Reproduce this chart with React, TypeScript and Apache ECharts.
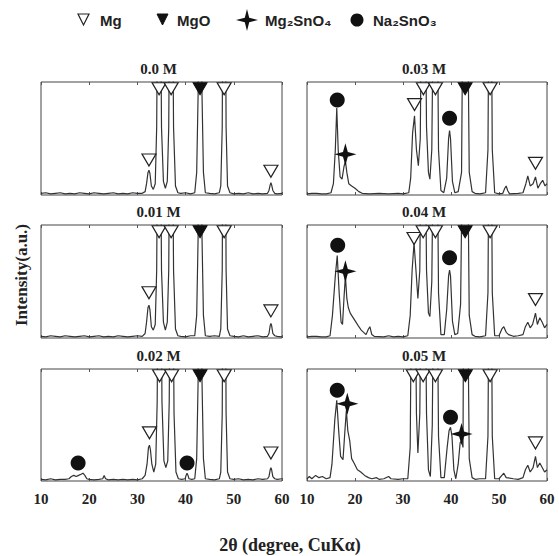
import React, { useEffect, useRef } from "react";
import * as echarts from "echarts";

// ---------- data ----------
const PANEL_LABELS = ["0.0 M", "0.01 M", "0.02 M", "0.03 M", "0.04 M", "0.05 M"];
const X_MIN = 10;
const X_MAX = 60;
const X_STEP = 10;
const PHASES = ["Mg", "MgO", "Mg₂SnO₄", "Na₂SnO₃"];

const PATTERN_000 = [
  [10, 1.5], [11, 2], [12, 1], [13, 1.5], [14, 2], [15, 1], [16, 1.5], [17, 1], [18, 2], [19, 1.5], [20, 1],
  [21, 2], [22, 1.5], [23, 1], [24, 1.5], [25, 2], [26, 1], [27, 1.5], [28, 1], [29, 2], [30, 1.5], [31, 1.5],
  [31.6, 3], [31.9, 10], [32.2, 20], [32.4, 22], [32.6, 19], [32.9, 8], [33.3, 5], [33.7, 10], [34.0, 60],
  [34.3, 250], [34.7, 250], [35.0, 60], [35.4, 12], [35.8, 6], [36.2, 12], [36.5, 60], [36.8, 250], [37.2, 250],
  [37.5, 60], [37.9, 8], [38.4, 2], [39, 1.5], [40, 2], [41, 1], [41.9, 2], [42.3, 20], [42.6, 90], [42.8, 250],
  [43.2, 250], [43.4, 90], [43.7, 20], [44.1, 2], [45, 1.5], [46, 1], [47, 2], [47.3, 8], [47.6, 60], [47.8, 250],
  [48.2, 250], [48.4, 60], [48.7, 8], [49.2, 2], [50, 1], [51, 1.5], [52, 1], [53, 2], [54, 1], [55, 1.5], [56, 1],
  [57, 1.5], [57.3, 4], [57.55, 9], [57.7, 11], [57.85, 9], [58.1, 4], [58.5, 1.5], [59, 1], [60, 1.5],
];

const PATTERN_001 = [
  [10, 1.5], [11, 1], [12, 2], [13, 1.5], [14, 1], [15, 2], [16, 1.5], [17, 1], [18, 1.5], [19, 2], [20, 1],
  [21, 1.5], [22, 2], [23, 1], [24, 1.5], [25, 1], [26, 2], [27, 1.5], [28, 1], [29, 1.5], [30, 2], [31, 1.5],
  [31.6, 4], [31.9, 14], [32.2, 27], [32.4, 29], [32.6, 25], [32.9, 10], [33.3, 7], [33.7, 12], [34.0, 60],
  [34.3, 250], [34.7, 250], [35.0, 60], [35.4, 14], [35.8, 7], [36.2, 14], [36.5, 60], [36.8, 250], [37.2, 250],
  [37.5, 60], [37.9, 8], [38.4, 2], [39, 1.5], [40, 1], [41, 2], [41.9, 2], [42.3, 20], [42.6, 90], [42.8, 250],
  [43.2, 250], [43.4, 90], [43.7, 20], [44.1, 2], [45, 1.5], [46, 2], [47, 1.5], [47.3, 8], [47.6, 60], [47.8, 250],
  [48.2, 250], [48.4, 60], [48.7, 8], [49.2, 2], [50, 1.5], [51, 1], [52, 2], [53, 1], [54, 1.5], [55, 2], [56, 1],
  [57, 1.5], [57.3, 4], [57.55, 11], [57.7, 13], [57.85, 11], [58.1, 4], [58.5, 2], [59, 1.5], [60, 1],
];

const PATTERN_002 = [
  [10, 1.5], [11, 1], [12, 2], [13, 1], [14, 1.5], [15, 1.5], [15.8, 2], [16.3, 4], [16.8, 5], [17.3, 4],
  [17.8, 5], [18.3, 6], [18.7, 7], [19.1, 5], [19.5, 2], [20, 1.5], [21, 1], [22, 1.5], [22.8, 2], [23.1, 5],
  [23.4, 2], [24, 1], [25, 1.5], [26, 1], [27, 1.5], [28, 1], [29, 1.5], [30, 1], [31, 2], [31.6, 5], [32.0, 15],
  [32.3, 30], [32.5, 32], [32.7, 28], [33.0, 15], [33.4, 8], [33.8, 15], [34.1, 70], [34.4, 250], [34.8, 250],
  [35.1, 70], [35.5, 18], [35.9, 12], [36.3, 18], [36.6, 70], [36.9, 250], [37.3, 250], [37.6, 60], [38.0, 8],
  [38.5, 2], [39.2, 1.5], [39.9, 2], [40.1, 5], [40.3, 7], [40.5, 5], [40.7, 2], [41.3, 1.5], [41.9, 2], [42.3, 20],
  [42.6, 90], [42.8, 250], [43.2, 250], [43.4, 90], [43.7, 20], [44.1, 2], [45, 1.5], [46, 1], [47, 2], [47.3, 8],
  [47.6, 60], [47.8, 250], [48.2, 250], [48.4, 60], [48.7, 8], [49.2, 2], [50, 1.5], [51, 2], [52, 1], [53, 1.5],
  [54, 1], [55, 2], [56, 1.5], [57, 2], [57.3, 4], [57.55, 10], [57.7, 12], [57.85, 10], [58.1, 4], [58.5, 2],
  [59, 1.5], [60, 2],
];

const PATTERN_003 = [
  [10, 1], [11, 1.5], [12, 1.5], [13, 1], [14, 1], [15, 2], [15.5, 10], [15.9, 40], [16.2, 77], [16.5, 40],
  [16.9, 16], [17.3, 14], [17.7, 25], [18.0, 30], [18.3, 20], [18.7, 10], [19.3, 8], [20, 6], [20.8, 3], [21.5, 1.5],
  [23, 1], [25, 1.5], [27, 1], [29, 1.5], [30, 1], [31.2, 2], [31.6, 15], [32.0, 55], [32.4, 70], [32.8, 40],
  [33.2, 26], [33.6, 50], [34.0, 250], [34.5, 250], [34.9, 60], [35.3, 20], [35.6, 14], [36.0, 40], [36.5, 250],
  [37.0, 250], [37.4, 40], [37.9, 4], [38.5, 2], [39.1, 15], [39.5, 50], [39.7, 57], [39.9, 50], [40.3, 12],
  [40.8, 2], [41.5, 3], [42.2, 20], [42.6, 250], [43.3, 250], [43.8, 20], [44.4, 3], [45, 1.5], [46, 1], [47.2, 2],
  [47.7, 40], [48.0, 250], [48.3, 250], [48.6, 40], [49.1, 2], [50, 1], [50.8, 1.5], [51.2, 6], [51.5, 8],
  [51.8, 4], [52.2, 1], [54, 1.5], [55, 2], [55.6, 10], [56.0, 17], [56.5, 8], [57.1, 10], [57.6, 16], [58.1, 6],
  [58.6, 10], [59.1, 13], [59.6, 8], [60, 10],
];

const PATTERN_004 = [
  [10, 1], [11, 1.5], [12, 1.5], [13, 1], [14, 1], [14.8, 2], [15.3, 20], [15.9, 55], [16.3, 73], [16.7, 40],
  [17.1, 14], [17.4, 12], [17.7, 35], [18.0, 55], [18.3, 35], [18.6, 27], [19.0, 22], [19.6, 18], [20.2, 14],
  [20.8, 10], [21.3, 7], [21.8, 5], [22.3, 3], [22.8, 8], [23.1, 10], [23.5, 3], [24, 1.5], [26, 1], [27, 2],
  [28, 1], [29, 1.5], [30, 1], [31.0, 2], [31.5, 20], [31.9, 60], [32.3, 84], [32.7, 60], [33.1, 35], [33.5, 60],
  [33.9, 250], [34.5, 250], [34.9, 60], [35.3, 22], [35.6, 19], [36.0, 50], [36.5, 250], [37.0, 250], [37.4, 40],
  [37.9, 3], [38.6, 3], [39.1, 25], [39.5, 55], [39.7, 60], [39.9, 55], [40.3, 15], [40.8, 3], [41.4, 4],
  [42.0, 30], [42.6, 250], [43.3, 250], [43.8, 20], [44.4, 3], [45, 1.5], [46, 1], [47.2, 2], [47.7, 40],
  [48.0, 250], [48.3, 250], [48.6, 40], [49.1, 2], [50, 2], [50.6, 8], [51.0, 10], [51.5, 5], [52, 3], [53, 1.5],
  [54, 2], [55, 3], [55.5, 10], [56.0, 14], [56.5, 9], [57.0, 12], [57.6, 22], [58.0, 12], [58.5, 18], [59.0, 14],
  [59.5, 9], [60, 12],
];

const PATTERN_005 = [
  [10, 2], [10.5, 4], [11, 2], [11.8, 5], [12.5, 3], [13.2, 4], [14, 2], [14.8, 3], [15.2, 15], [15.8, 55],
  [16.2, 72], [16.6, 45], [17.0, 22], [17.5, 19], [17.9, 45], [18.2, 63], [18.5, 45], [18.9, 36], [19.3, 20],
  [19.8, 16], [20.5, 10], [21.2, 8], [22, 5], [22.8, 3], [23.5, 2], [24.5, 3], [25, 1.5], [26, 2], [27, 4],
  [27.5, 2], [29, 1.5], [30, 2], [31.0, 2], [31.5, 30], [31.9, 250], [32.4, 250], [32.8, 60], [33.1, 25],
  [33.5, 60], [33.9, 250], [34.5, 250], [34.9, 60], [35.3, 10], [35.7, 4], [36.1, 50], [36.5, 250], [37.0, 250],
  [37.4, 40], [37.9, 3], [38.6, 3], [39.2, 30], [39.6, 45], [39.9, 48], [40.2, 40], [40.6, 10], [41.0, 2],
  [41.5, 15], [41.9, 34], [42.2, 36], [42.5, 30], [42.7, 250], [43.3, 250], [43.8, 20], [44.4, 3], [45, 1.5],
  [46, 2], [47.2, 2], [47.7, 40], [48.0, 250], [48.3, 250], [48.6, 40], [49.1, 2], [50, 2], [50.6, 5], [51.0, 7],
  [51.5, 3], [53, 2], [54, 1.5], [55, 3], [55.5, 10], [56.0, 14], [56.5, 8], [57.1, 12], [57.6, 22], [58.0, 12],
  [58.5, 16], [59.0, 12], [59.5, 8], [60, 10],
];

const PATTERNS = [PATTERN_000, PATTERN_001, PATTERN_002, PATTERN_003, PATTERN_004, PATTERN_005];

// phase markers per panel [2theta, height]
const MG_MARKS = [
  [[32.4, 31], [34.5, 94], [37.0, 94], [48.0, 94], [57.7, 21]],
  [[32.4, 40], [34.5, 94], [37.0, 94], [48.0, 94], [57.7, 24]],
  [[32.5, 43], [34.6, 94], [37.1, 94], [48.0, 94], [57.7, 25]],
  [[32.4, 80], [34.25, 94], [36.75, 94], [48.15, 94], [57.6, 28]],
  [[32.3, 88], [34.2, 94], [36.75, 94], [48.15, 94], [57.6, 34]],
  [[32.15, 94], [34.2, 94], [36.75, 94], [48.15, 94], [57.6, 34]],
];
const MGO_MARKS = [
  [[43.0, 94]], [[43.0, 94]], [[43.0, 94]], [[42.95, 94]], [[42.95, 94]], [[43.0, 94]],
];
const MG2SNO4_MARKS = [[], [], [], [[18.0, 36]], [[18.0, 59]], [[18.4, 69], [42.2, 42]]];
const NA2SNO3_MARKS = [
  [], [], [[17.7, 16], [40.3, 16]], [[16.3, 84], [39.7, 68]], [[16.4, 82], [39.7, 71]], [[16.3, 81], [39.9, 57]],
];

// ---------- layout ----------
const COLS = [
  { left: 41, width: 241 },
  { left: 307, width: 240 },
];
const ROWS = [
  { top: 82, height: 113 },
  { top: 225, height: 113 },
  { top: 369, height: 112 },
];
const PANEL_POS = [
  [0, 0], [1, 0], [2, 0], [0, 1], [1, 1], [2, 1],
];

const SERIF = '"Liberation Serif", "Times New Roman", serif';
const SANS = '"Liberation Sans", Arial, sans-serif';
const STAR_PATH = "path://M10,0 L12.2,7.8 L20,10 L12.2,12.2 L10,20 L7.8,12.2 L0,10 L7.8,7.8 Z";

export default function App() {
  const ref = useRef<HTMLDivElement>(null);

  useEffect(() => {
    if (!ref.current) return;
    const chart = echarts.init(ref.current, undefined, { renderer: "svg" });

    const grids: any[] = [];
    const xAxes: any[] = [];
    const xAxesTop: any[] = [];
    const yAxes: any[] = [];
    const series: any[] = [];
    const graphics: any[] = [];

    PATTERNS.forEach((pat, i) => {
      const [r, c] = PANEL_POS[i];
      const col = COLS[c];
      const row = ROWS[r];
      grids.push({
        left: col.left,
        top: row.top,
        width: col.width,
        height: row.height,
        show: true,
        borderColor: "#444",
        borderWidth: 1,
        backgroundColor: "transparent",
      });
      xAxes.push({
        gridIndex: i,
        type: "value",
        min: X_MIN,
        max: X_MAX,
        interval: X_STEP,
        axisLine: { show: false },
        axisTick: { show: true, inside: true, length: 3, lineStyle: { color: "#555" } },
        axisLabel: {
          show: r === 2,
          fontFamily: SERIF,
          fontWeight: "bold",
          fontSize: 15,
          color: "#222",
          margin: 10,
        },
        splitLine: { show: false },
      });
      xAxesTop.push({
        gridIndex: i,
        type: "value",
        position: "top",
        min: X_MIN,
        max: X_MAX,
        interval: X_STEP,
        axisLine: { show: false },
        axisTick: { show: true, inside: true, length: 3, lineStyle: { color: "#555" } },
        axisLabel: { show: false },
        splitLine: { show: false },
      });
      yAxes.push({
        gridIndex: i,
        type: "value",
        min: 0,
        max: 100,
        show: false,
        splitLine: { show: false },
      });
      series.push({
        type: "line",
        name: PANEL_LABELS[i],
        xAxisIndex: i,
        yAxisIndex: i,
        data: pat,
        symbol: "none",
        showSymbol: false,
        clip: true,
        lineStyle: { color: "#333", width: 1.2 },
        z: 2,
      });
      series.push({
        type: "scatter",
        name: PHASES[0],
        xAxisIndex: i,
        yAxisIndex: i,
        data: MG_MARKS[i],
        symbol: "triangle",
        symbolRotate: 180,
        symbolSize: [14, 12],
        itemStyle: { color: "#fff", borderColor: "#222", borderWidth: 1.2, opacity: 1 },
        clip: false,
        z: 5,
      });
      series.push({
        type: "scatter",
        name: PHASES[1],
        xAxisIndex: i,
        yAxisIndex: i,
        data: MGO_MARKS[i],
        symbol: "triangle",
        symbolRotate: 180,
        symbolSize: [14, 12],
        itemStyle: { color: "#111", borderColor: "#111", borderWidth: 1, opacity: 1 },
        clip: false,
        z: 5,
      });
      series.push({
        type: "scatter",
        name: PHASES[2],
        xAxisIndex: i,
        yAxisIndex: i,
        data: MG2SNO4_MARKS[i],
        symbol: STAR_PATH,
        symbolSize: 22,
        itemStyle: { color: "#111", opacity: 1 },
        clip: false,
        z: 6,
      });
      series.push({
        type: "scatter",
        name: PHASES[3],
        xAxisIndex: i,
        yAxisIndex: i,
        data: NA2SNO3_MARKS[i],
        symbol: "circle",
        symbolSize: 15,
        itemStyle: { color: "#111", opacity: 1 },
        clip: false,
        z: 6,
      });
      graphics.push({
        type: "text",
        x: col.left + col.width / 2 - 3,
        y: row.top - 13,
        style: {
          text: PANEL_LABELS[i],
          font: `bold 15px ${SERIF}`,
          fill: "#222",
          align: "center",
          verticalAlign: "middle",
        },
      });
    });

    // legend
    const legendY = 20;
    graphics.push(
      {
        type: "polygon",
        shape: { points: [[78, legendY - 6], [89, legendY - 6], [83.5, legendY + 5]] },
        style: { fill: "#fff", stroke: "#222", lineWidth: 1.2 },
      },
      {
        type: "text",
        x: 100,
        y: legendY,
        style: { text: PHASES[0], font: `bold 15px ${SANS}`, fill: "#222", verticalAlign: "middle" },
      },
      {
        type: "polygon",
        shape: { points: [[157, legendY - 6], [168, legendY - 6], [162.5, legendY + 5]] },
        style: { fill: "#111", stroke: "#111", lineWidth: 1 },
      },
      {
        type: "text",
        x: 177,
        y: legendY,
        style: { text: PHASES[1], font: `bold 15px ${SANS}`, fill: "#222", verticalAlign: "middle" },
      },
      {
        type: "polygon",
        shape: {
          points: [
            [247, legendY - 11], [249.2, legendY - 2.2], [258, legendY], [249.2, legendY + 2.2],
            [247, legendY + 11], [244.8, legendY + 2.2], [236, legendY], [244.8, legendY - 2.2],
          ],
        },
        style: { fill: "#111" },
      },
      {
        type: "text",
        x: 265,
        y: legendY,
        style: { text: PHASES[2], font: `bold 15px ${SANS}`, fill: "#222", verticalAlign: "middle" },
      },
      {
        type: "circle",
        shape: { cx: 357, cy: legendY, r: 6.5 },
        style: { fill: "#111" },
      },
      {
        type: "text",
        x: 373,
        y: legendY,
        style: { text: PHASES[3], font: `bold 15px ${SANS}`, fill: "#222", verticalAlign: "middle" },
      }
    );

    // axis titles
    graphics.push(
      {
        type: "text",
        x: 21,
        y: 275,
        rotation: Math.PI / 2,
        style: {
          text: "Intensity(a.u.)",
          font: `bold 17px ${SERIF}`,
          fill: "#222",
          align: "center",
          verticalAlign: "middle",
        },
      },
      {
        type: "text",
        x: 290,
        y: 545,
        style: {
          text: "2θ (degree, CuKα)",
          font: `bold 18px ${SERIF}`,
          fill: "#222",
          align: "center",
          verticalAlign: "middle",
        },
      }
    );

    chart.setOption({
      animation: false,
      backgroundColor: "#fff",
      grid: grids,
      xAxis: [...xAxes, ...xAxesTop],
      yAxis: yAxes,
      series,
      graphic: { elements: graphics },
    });

    return () => chart.dispose();
  }, []);

  return (
    <div
      ref={ref}
      style={{ position: "fixed", left: 0, top: 0, width: 559, height: 556, background: "#fff" }}
    />
  );
}
